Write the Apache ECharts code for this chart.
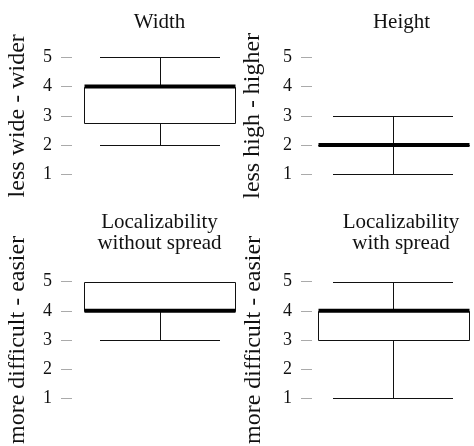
<!DOCTYPE html>
<html>
<head>
<meta charset="utf-8">
<script src="https://cdn.jsdelivr.net/npm/echarts@6/dist/echarts.min.js"></script>
<style>
  html, body { margin: 0; padding: 0; background: #fff; }
  #chart { width: 474px; height: 446px; }
</style>
</head>
<body>
<div id="chart"></div>
<script>
// ---- data ----
const panelTitles = ['Width', 'Height', 'Localizability\nwithout spread', 'Localizability\nwith spread'];
const axisNames = ['less wide - wider', 'less high - higher', 'more difficult - easier', 'more difficult - easier'];
const tickLabels = ['1', '2', '3', '4', '5'];
// [min, q1, median, q3, max]
const widthStats = [2, 2.75, 4, 4, 5];
const heightStats = [1, 2, 2, 2, 3];
const locNoSpreadStats = [3, 4, 4, 5, 5];
const locSpreadStats = [1, 3, 4, 4, 5];
const allStats = [widthStats, heightStats, locNoSpreadStats, locSpreadStats];

// ---- layout / style ----
const FONT = 'Liberation Serif';
const TEXT = '#111';
const grids = [
  { left: 72, top: 57.3, width: 175, height: 117 },
  { left: 312, top: 57.3, width: 177, height: 117 },
  { left: 72, top: 281.7, width: 175, height: 117.6 },
  { left: 312, top: 281.7, width: 177, height: 117.6 }
];
const nameGaps = [42, 47, 42, 46];
const BOX_HALF = 75.5;
const CAP_HALF = 60;
const LINE = '#111';

function renderItem(params, api) {
  const xv = api.value(0);
  const cx = api.coord([xv, api.value(3)])[0];
  const py = v => Math.round(api.coord([xv, v])[1]) + 0.5;
  const yMin = py(api.value(1)), yQ1 = py(api.value(2)), yMed = api.coord([xv, api.value(3)])[1];
  const yQ3 = py(api.value(4)), yMax = py(api.value(5));
  const xc = Math.round(cx) + 0.5;
  const xl = Math.round(cx - BOX_HALF) + 0.5, xr = Math.round(cx + BOX_HALF) + 0.5;
  const ls = { stroke: LINE, lineWidth: 1 };
  return {
    type: 'group',
    children: [
      { type: 'line', shape: { x1: xc, y1: yMin, x2: xc, y2: yQ1 }, style: ls },
      { type: 'line', shape: { x1: xc, y1: yQ3, x2: xc, y2: yMax }, style: ls },
      { type: 'line', shape: { x1: Math.round(cx - CAP_HALF), y1: yMin, x2: Math.round(cx + CAP_HALF), y2: yMin }, style: ls },
      { type: 'line', shape: { x1: Math.round(cx - CAP_HALF), y1: yMax, x2: Math.round(cx + CAP_HALF), y2: yMax }, style: ls },
      { type: 'rect', shape: { x: xl, y: yQ3, width: xr - xl, height: yQ1 - yQ3 }, style: { fill: '#fff', stroke: LINE, lineWidth: 1 } },
      { type: 'line', shape: { x1: xl, y1: yMed, x2: xr, y2: yMed }, style: { stroke: '#000', lineWidth: 4 } }
    ]
  };
}

const option = {
  backgroundColor: '#fff',
  animation: false,
  grid: grids,
  xAxis: grids.map((g, i) => ({
    type: 'value', gridIndex: i, min: 0, max: 2, show: false
  })),
  yAxis: grids.map((g, i) => ({
    type: 'value', gridIndex: i, min: 1, max: 5, interval: 1,
    axisLine: { show: false },
    axisTick: { show: true, length: 11, lineStyle: { color: '#aaa', width: 1 } },
    splitLine: { show: false },
    axisLabel: {
      margin: 20, fontFamily: FONT, fontSize: 18, color: TEXT,
      formatter: v => tickLabels[v - 1]
    },
    name: axisNames[i], nameLocation: 'middle', nameRotate: 90, nameGap: nameGaps[i],
    nameTextStyle: { fontFamily: FONT, fontSize: 24, color: TEXT }
  })),
  series: allStats.map((s, i) => ({
    type: 'custom', xAxisIndex: i, yAxisIndex: i,
    renderItem: renderItem,
    encode: { x: 0, y: [1, 2, 3, 4, 5] },
    data: [[1].concat(s)],
    clip: false, silent: true
  })),
  graphic: [
    { type: 'text', x: 159.5, y: 22, style: { text: panelTitles[0], font: '21px ' + FONT, fill: TEXT, align: 'center', verticalAlign: 'middle' } },
    { type: 'text', x: 401.5, y: 22, style: { text: panelTitles[1], font: '21px ' + FONT, fill: TEXT, align: 'center', verticalAlign: 'middle' } },
    { type: 'text', x: 159.5, y: 233, style: { text: panelTitles[2], font: '21px ' + FONT, fill: TEXT, align: 'center', verticalAlign: 'middle', lineHeight: 21.6 } },
    { type: 'text', x: 401, y: 233, style: { text: panelTitles[3], font: '21px ' + FONT, fill: TEXT, align: 'center', verticalAlign: 'middle', lineHeight: 21.6 } }
  ]
};

const chart = echarts.init(document.getElementById('chart'), null, { renderer: 'canvas' });
chart.setOption(option);
</script>
</body>
</html>
